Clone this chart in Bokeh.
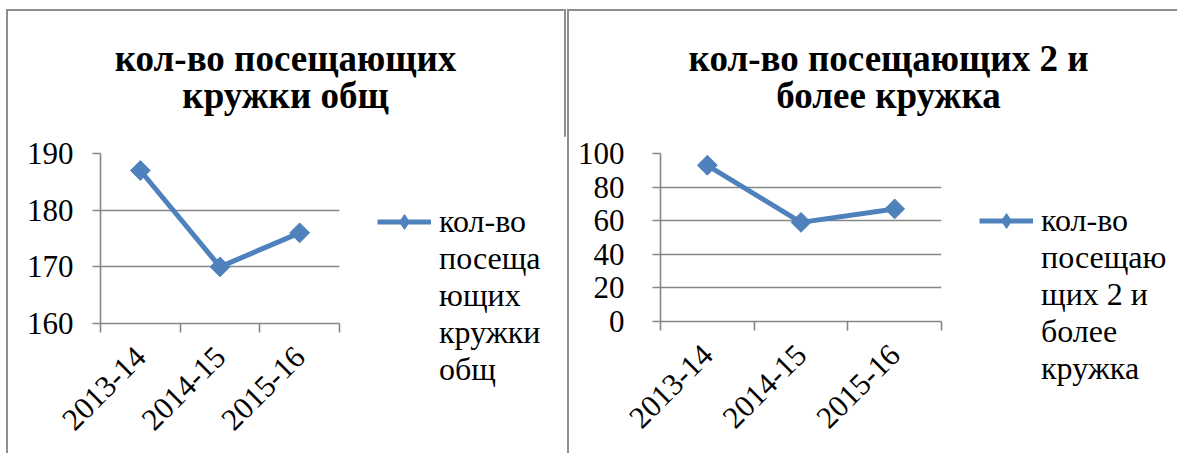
import math
from bokeh.plotting import figure
from bokeh.models import Range1d, FixedTicker, Legend, LegendItem, Spacer, Label
from bokeh.layouts import row, column
from bokeh.embed import file_html
from bokeh.resources import INLINE

# ---- data ----
categories = ["2013-14", "2014-15", "2015-16"]
total_visitors = [187, 170, 176]
multi_visitors = [93, 59, 67]
y_ticks_total = [160, 170, 180, 190]
y_ticks_multi = [0, 20, 40, 60, 80, 100]
title_total = ["кол-во посещающих", "кружки общ"]
title_multi = ["кол-во посещающих 2 и", "более кружка"]
legend_total = ["кол-во", "посеща", "ющих", "кружки", "общ"]
legend_multi = ["кол-во", "посещаю", "щих 2 и", "более", "кружка"]

BLUE = "#4F81BD"
GRAY = "#868686"
BORDER = "2px solid #8e8e8e"
FONT = "Liberation Serif"
TITLE_H = 127
CHART_H = 317


def blank(width, height, styles):
    p = figure(width=width, height=height, x_range=Range1d(0, 1), y_range=Range1d(0, 1),
               x_axis_location=None, y_axis_location=None,
               output_backend="svg", toolbar_location=None,
               min_border=0, styles=styles)
    p.outline_line_color = None
    p.grid.visible = False
    return p


def title_fig(lines, width, cx, styles):
    p = blank(width, TITLE_H, styles)
    for txt, y in zip(lines, [80, 43]):
        p.add_layout(Label(x=cx, y=y, x_units="screen", y_units="screen",
                           text=txt, text_align="center", text_baseline="alphabetic",
                           text_font=FONT, text_font_size="37px",
                           text_font_style="bold", text_color="black"))
    return p


def chart_fig(values, yticks, width, fl, fr, ft, fb, ystandoff, styles):
    xs = [i + 0.5 for i in range(len(categories))]
    p = figure(width=width, height=CHART_H,
               x_range=Range1d(0, len(categories)),
               y_range=Range1d(yticks[0], yticks[-1]),
               output_backend="svg", toolbar_location=None,
               min_border_left=fl, min_border_top=ft,
               min_border_right=fr, min_border_bottom=fb,
               styles=styles)
    p.outline_line_color = None

    xa = p.xaxis[0]
    xa.ticker = FixedTicker(ticks=xs, minor_ticks=list(range(len(categories) + 1)))
    xa.major_label_overrides = {x: c for x, c in zip(xs, categories)}
    xa.major_label_orientation = math.pi / 4
    xa.major_tick_line_color = None
    xa.major_tick_out = 0
    xa.major_tick_in = 0
    xa.minor_tick_line_color = GRAY
    xa.minor_tick_line_width = 1.6
    xa.minor_tick_out = 9
    xa.minor_tick_in = 0
    xa.axis_line_color = GRAY
    xa.axis_line_width = 1.6
    xa.major_label_text_font = FONT
    xa.major_label_text_font_size = "31px"
    xa.major_label_text_color = "black"
    xa.major_label_standoff = 19

    ya = p.yaxis[0]
    ya.ticker = FixedTicker(ticks=yticks)
    ya.minor_tick_line_color = None
    ya.major_tick_line_color = GRAY
    ya.major_tick_line_width = 1.6
    ya.major_tick_out = 8
    ya.major_tick_in = 0
    ya.axis_line_color = GRAY
    ya.axis_line_width = 1.6
    ya.major_label_text_font = FONT
    ya.major_label_text_font_size = "31px"
    ya.major_label_text_color = "black"
    ya.major_label_standoff = ystandoff

    p.xgrid.visible = False
    p.ygrid.grid_line_color = GRAY
    p.ygrid.grid_line_width = 1.6

    p.line(xs, values, line_color=BLUE, line_width=5)
    p.scatter(xs, values, marker="square", size=14, angle=math.pi / 4,
              fill_color=BLUE, line_color=BLUE)
    return p


def legend_fig(values, lines, width, loc, styles):
    p = blank(width, CHART_H, styles)
    xs = [i + 0.5 for i in range(len(categories))]
    # hidden copies of the series, used only for the legend glyph
    lr = p.line(xs, values, line_color=BLUE, line_width=5, visible=False)
    sr = p.scatter(xs, values, marker="diamond", size=14,
                   fill_color=BLUE, line_color=BLUE, visible=False)
    dummy = p.scatter(xs, values, size=0, fill_alpha=0, line_alpha=0, visible=False)
    items = [LegendItem(label=lines[0], renderers=[lr, sr])]
    items += [LegendItem(label=t, renderers=[dummy]) for t in lines[1:]]
    leg = Legend(items=items, location=loc,
                 glyph_width=54, glyph_height=37, label_height=37,
                 label_standoff=8, padding=0, margin=0, spacing=0,
                 border_line_color=None, background_fill_alpha=0,
                 label_text_font=FONT, label_text_font_size="32px",
                 label_text_color="black", label_text_baseline="middle")
    p.add_layout(leg, "left")
    return p


# left panel (outer 560 px wide incl. 2px borders)
left_title = title_fig(title_total, 560, 277,
                       {"border-left": BORDER, "border-top": BORDER, "border-right": BORDER})
left_chart = chart_fig(total_visitors, y_ticks_total, 341, 92, 10, 17, 130, 19,
                       {"border-left": BORDER})
left_leg = legend_fig(total_visitors, legend_total, 219, (30, -65),
                      {"border-right": BORDER})
left_panel = column(left_title, row(left_chart, left_leg))

# right panel
right_title = title_fig(title_multi, 610, 319,
                        {"border-left": BORDER, "border-top": BORDER})
right_chart = chart_fig(multi_visitors, y_ticks_multi, 382, 91, 10, 17, 132, 28,
                        {"border-left": BORDER})
right_leg = legend_fig(multi_visitors, legend_multi, 228, (30, -66), {})
right_panel = column(right_title, row(right_chart, right_leg))

layout = column(Spacer(height=9),
                row(Spacer(width=6), left_panel, Spacer(width=1), right_panel))
open("out.html", "w").write(file_html(layout, INLINE))
